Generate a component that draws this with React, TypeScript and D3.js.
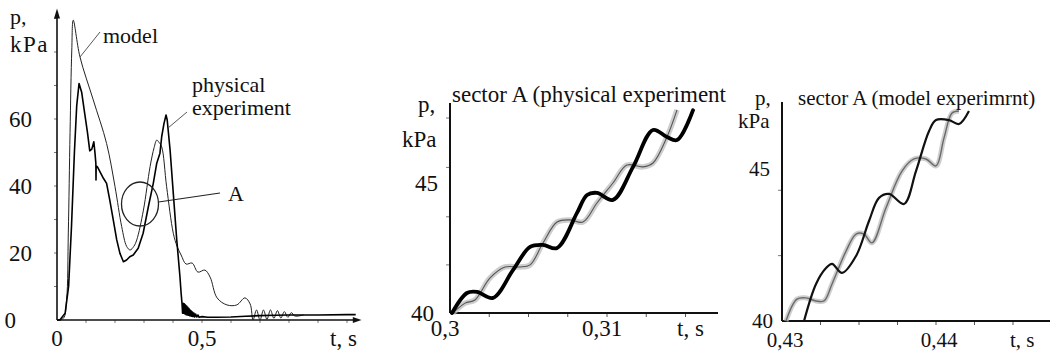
import React from "react";
import * as d3 from "d3";

type Pt = [number, number];

const FONT = "'Liberation Serif', 'Times New Roman', serif";

// full record: [t, s ; p, kPa]
const modelCurve: Pt[] = [
  [0, 0], [0.022, 0.5], [0.033, 6], [0.039, 26], [0.045, 56], [0.051, 80.6], [0.056, 89.5],
  [0.079, 78.6], [0.125, 65.7], [0.171, 52.7], [0.2, 39.8], [0.223, 27.9], [0.24, 22],
  [0.252, 20.9], [0.265, 22], [0.275, 23.9], [0.298, 32.8], [0.321, 45.8], [0.335, 51.5],
  [0.344, 53.7], [0.352, 53], [0.361, 51.7], [0.378, 39.8], [0.401, 25.9], [0.414, 22],
  [0.428, 19.4], [0.445, 16.7], [0.466, 17], [0.486, 14.3], [0.51, 14.9], [0.528, 12.8],
  [0.552, 6.6], [0.586, 4.5], [0.62, 4.5], [0.648, 6.6], [0.666, 4.8], [0.676, 0],
  [0.688, 3], [0.7, 0], [0.712, 3], [0.724, 0.2], [0.736, 3], [0.748, 0.5], [0.76, 2.8],
  [0.772, 0.6], [0.784, 2.5], [0.796, 0.8], [0.808, 2.2], [0.82, 1.2], [0.85, 1.5],
];

const physicalCurve: Pt[] = [
  [0, 0], [0.01, 0], [0.028, 2], [0.04, 10], [0.05, 28], [0.06, 50], [0.068, 64],
  [0.076, 70.6], [0.085, 68], [0.095, 62], [0.105, 56], [0.113, 50.5], [0.12, 51],
  [0.127, 53.2], [0.131, 49.8], [0.134, 46.8], [0.1345, 41.8], [0.135, 46], [0.139, 45.8],
  [0.16, 42.3], [0.171, 40.8], [0.182, 35.8], [0.194, 29.9], [0.206, 23.9], [0.217, 19.9],
  [0.229, 17.4], [0.24, 17.9], [0.251, 18.9], [0.263, 19.4], [0.28, 21.4], [0.297, 25.9],
  [0.315, 33.8], [0.332, 40.8], [0.344, 46.8], [0.355, 49.8], [0.361, 54.7], [0.369, 58.7],
  [0.376, 61.2], [0.38, 59.7], [0.39, 50.7], [0.401, 37.8], [0.413, 23.9], [0.424, 12.9],
  [0.428, 8], [0.431, 5], [0.433, 2], [0.435, 5], [0.437, 2], [0.439, 4.8], [0.441, 1.8],
  [0.443, 4.5], [0.445, 1.6], [0.447, 4.2], [0.449, 1.5], [0.451, 3.8], [0.453, 1.4],
  [0.455, 3.4], [0.457, 1.3], [0.459, 3], [0.461, 1.2], [0.463, 2.7], [0.465, 1.1],
  [0.467, 2.4], [0.469, 1], [0.472, 2.1], [0.475, 0.9], [0.478, 1.8], [0.482, 0.9],
  [0.486, 1.5], [0.49, 0.8], [0.5, 1], [0.52, 0.8], [0.55, 0.8], [0.6, 0.9], [0.65, 1.1],
  [0.7, 1.3], [0.75, 1.4], [0.8, 1.5], [0.9, 1.5], [1.0, 1.6], [1.03, 1.6],
];

// sector A, physical experiment
const physSectorBold: Pt[] = [
  [0.30013, 40], [0.30108, 40.77], [0.30172, 40.81], [0.30274, 40.58], [0.30401, 41.65],
  [0.3051, 42.54], [0.30592, 42.62], [0.30682, 42.5], [0.30809, 43.85], [0.30873, 44.54],
  [0.30936, 44.62], [0.31038, 44.35], [0.31166, 45.62], [0.31293, 47.04], [0.31382, 46.77],
  [0.31446, 46.65], [0.31548, 47.8],
];
const physSectorGray: Pt[] = [
  [0.30019, 40], [0.30096, 40.38], [0.30159, 40.5], [0.30255, 41.35], [0.3035, 41.77],
  [0.30446, 41.77], [0.3051, 41.85], [0.30592, 42.69], [0.30682, 43.5], [0.30764, 43.58],
  [0.30847, 43.5], [0.30936, 44.23], [0.31038, 45], [0.31127, 45.69], [0.31229, 45.62],
  [0.31293, 45.77], [0.31382, 46.77], [0.31446, 47.81],
];

// sector A, model experiment
const modelSectorBlack: Pt[] = [
  [0.43143, 40], [0.43221, 41.22], [0.43286, 41.74], [0.43325, 41.88], [0.4339, 41.58],
  [0.43481, 42.14], [0.43565, 43.29], [0.4363, 44.05], [0.43695, 44.18], [0.43792, 43.85],
  [0.4387, 44.93], [0.43955, 46.25], [0.44, 46.61], [0.44084, 46.61], [0.44149, 46.48],
  [0.44214, 46.91],
];
const modelSectorGray: Pt[] = [
  [0.43026, 40], [0.43097, 40.72], [0.43156, 40.76], [0.43221, 40.66], [0.43273, 40.66],
  [0.43325, 41.22], [0.43416, 42.3], [0.43481, 42.86], [0.43532, 42.86], [0.43584, 42.57],
  [0.43675, 43.72], [0.43779, 44.93], [0.43857, 45.33], [0.43935, 45.33], [0.44, 45.1],
  [0.44052, 46.02], [0.44104, 46.84], [0.44149, 46.91],
];

const fullXTicks = [0.1, 0.2, 0.3, 0.4, 0.5, 0.6, 0.7, 0.8, 0.9, 1.0];
const fullYTicks = [10, 20, 30, 40, 50, 60, 70, 80, 90];
const fullYLabels = [0, 20, 40, 60];
const fullXLabels = [0, 0.5];
const physXTicks = [0.3025, 0.305, 0.3075, 0.31, 0.3125, 0.315];
const physYTicks = [41.85, 43.7, 45.6, 47.5];
const physXLabels = [0.3, 0.31];
const modelXTicks = [0.4325, 0.435, 0.4375, 0.44, 0.4425, 0.445, 0.4475];
const modelYTicks = [42.15, 44.3];
const modelXLabels = [0.43, 0.44];
const sectorYLabels = [40, 45];

const comma = (v: number) => String(v).replace(".", ",");

export default function App() {
  // panel 1
  const x1 = d3.scaleLinear().domain([0, 1]).range([57, 347]);
  const y1 = d3.scaleLinear().domain([0, 80]).range([320, 52]);
  const line1 = d3.line<Pt>().x((d) => x1(d[0])).y((d) => y1(d[1]));
  const smooth1 = d3.line<Pt>().x((d) => x1(d[0])).y((d) => y1(d[1])).curve(d3.curveCatmullRom);

  // panel 2
  const x2 = d3.scaleLinear().domain([0.3, 0.31]).range([450, 607]);
  const y2 = d3.scaleLinear().domain([40, 45]).range([313, 183]);
  const line2 = d3.line<Pt>().x((d) => x2(d[0])).y((d) => y2(d[1])).curve(d3.curveCatmullRom);

  // panel 3
  const x3 = d3.scaleLinear().domain([0.43, 0.44]).range([782, 936]);
  const y3 = d3.scaleLinear().domain([40, 45]).range([321, 169]);
  const line3 = d3.line<Pt>().x((d) => x3(d[0])).y((d) => y3(d[1])).curve(d3.curveCatmullRom);

  const ink = "#111";

  return (
    <svg
      width={1051}
      height={351}
      viewBox="0 0 1051 351"
      style={{ position: "absolute", left: 0, top: 0, background: "#fff" }}
      fontFamily={FONT}
      fill={ink}
    >
      <rect width={1051} height={351} fill="#fff" />

      {/* ---- full record ---- */}
      <g>
        {fullXTicks.map((t) => (
          <line key={t} x1={x1(t)} x2={x1(t)} y1={y1(0)} y2={y1(0) + 3} stroke="#555" strokeWidth={0.8} />
        ))}
        {fullYTicks.map((v) => (
          <line key={v} x1={x1(0) - 3} x2={x1(0)} y1={y1(v)} y2={y1(v)} stroke="#555" strokeWidth={0.8} />
        ))}
        <line x1={x1(0)} x2={x1(1.04)} y1={y1(0)} y2={y1(0)} stroke={ink} strokeWidth={1.6} />
        <line x1={x1(0)} x2={x1(0)} y1={y1(0)} y2={y1(91)} stroke={ink} strokeWidth={1.6} />
        <polygon points={`${x1(0)},${y1(93)} ${x1(0) - 3},${y1(90)} ${x1(0) + 3},${y1(90)}`} />
        <polygon points={`${x1(1.05)},${y1(0)} ${x1(1.02)},${y1(0) - 3} ${x1(1.02)},${y1(0) + 3}`} />

        <path d={smooth1(modelCurve) ?? ""} fill="none" stroke="#222" strokeWidth={1} />
        <path d={line1(physicalCurve) ?? ""} fill="none" stroke="#000" strokeWidth={1.6} strokeLinejoin="round" />

        {fullYLabels.map((v) => (
          <text key={v} x={v === 0 ? 16 : 32} y={y1(v)} dy="0.35em" textAnchor="end" fontSize={23}>
            {v}
          </text>
        ))}
        {fullXLabels.map((t) => (
          <text key={t} x={x1(t)} y={346} textAnchor="middle" fontSize={23}>
            {comma(t)}
          </text>
        ))}
        <text x={330} y={346} fontSize={23}>t, s</text>
        <text x={10} y={24} fontSize={22}>p,</text>
        <text x={10} y={52} fontSize={23} letterSpacing={1.5}>kPa</text>

        <line x1={100} y1={32} x2={80} y2={57} stroke="#444" strokeWidth={0.9} />
        <text x={103} y={43} fontSize={22}>model</text>
        <line x1={187} y1={112} x2={168} y2={128} stroke="#444" strokeWidth={0.9} />
        <text x={192} y={92} fontSize={22}>physical</text>
        <text x={192} y={115} fontSize={22}>experiment</text>

        <ellipse cx={140} cy={204} rx={18.5} ry={22} fill="none" stroke="#222" strokeWidth={1.3} />
        <line x1={158.5} y1={202} x2={220} y2={193} stroke="#222" strokeWidth={1.2} />
        <text x={228} y={201} fontSize={22}>A</text>
      </g>

      {/* ---- sector A, physical experiment ---- */}
      <g>
        {physXTicks.map((t) => (
          <line key={t} x1={x2(t)} x2={x2(t)} y1={y2(40)} y2={y2(40) + 4} stroke="#555" strokeWidth={1} />
        ))}
        {physYTicks.map((v) => (
          <line key={v} x1={x2(0.3) - 4} x2={x2(0.3)} y1={y2(v)} y2={y2(v)} stroke="#777" strokeWidth={1} />
        ))}
        <line x1={x2(0.3)} x2={718} y1={y2(40)} y2={y2(40)} stroke={ink} strokeWidth={2} />
        <line x1={x2(0.3)} x2={x2(0.3)} y1={y2(40)} y2={103} stroke={ink} strokeWidth={2} />

        <path d={line2(physSectorGray) ?? ""} fill="none" stroke="#bdbdbd" strokeWidth={5.5} strokeOpacity={0.75} />
        <path d={line2(physSectorGray) ?? ""} fill="none" stroke="#555" strokeWidth={1.1} />
        <path d={line2(physSectorBold) ?? ""} fill="none" stroke="#000" strokeWidth={3.8} strokeLinecap="round" />

        <text x={452} y={102} fontSize={23}>sector A (physical experiment</text>
        <text x={418} y={112} fontSize={23}>p,</text>
        <text x={402} y={147} fontSize={23}>kPa</text>
        {sectorYLabels.map((v) => (
          <text key={v} x={v === 40 ? 434 : 438} y={y2(v)} dy="0.35em" textAnchor="end" fontSize={23}>
            {v}
          </text>
        ))}
        {physXLabels.map((t) => (
          <text key={t} x={x2(t) - 5} y={336} textAnchor="middle" fontSize={23}>
            {comma(t)}
          </text>
        ))}
        <text x={677} y={336} fontSize={23}>t, s</text>
      </g>

      {/* ---- sector A, model experiment ---- */}
      <g>
        {modelXTicks.map((t) => (
          <line key={t} x1={x3(t)} x2={x3(t)} y1={y3(40)} y2={y3(40) + 4} stroke="#555" strokeWidth={1} />
        ))}
        {modelYTicks.map((v) => (
          <line key={v} x1={x3(0.43) - 4} x2={x3(0.43)} y1={y3(v)} y2={y3(v)} stroke="#777" strokeWidth={1} />
        ))}
        <line x1={x3(0.43)} x2={1050} y1={y3(40)} y2={y3(40)} stroke={ink} strokeWidth={2} />
        <line x1={x3(0.43)} x2={x3(0.43)} y1={y3(40)} y2={102} stroke={ink} strokeWidth={2} />

        <path d={line3(modelSectorGray) ?? ""} fill="none" stroke="#c2c2c2" strokeWidth={5} strokeOpacity={0.8} />
        <path d={line3(modelSectorGray) ?? ""} fill="none" stroke="#6a6a6a" strokeWidth={1.4} />
        <path d={line3(modelSectorBlack) ?? ""} fill="none" stroke="#111" strokeWidth={2.2} />

        <text x={798} y={105} fontSize={21}>sector A (model experimrnt)</text>
        <text x={755} y={105} fontSize={21}>p,</text>
        <text x={738} y={128} fontSize={21}>kPa</text>
        {sectorYLabels.map((v) => (
          <text key={v} x={v === 40 ? 773 : 770} y={y3(v)} dy="0.35em" textAnchor="end" fontSize={21}>
            {v}
          </text>
        ))}
        {modelXLabels.map((t) => (
          <text key={t} x={x3(t) + 3} y={347} textAnchor="middle" fontSize={21}>
            {comma(t)}
          </text>
        ))}
        <text x={1010} y={347} fontSize={21}>t, s</text>
      </g>
    </svg>
  );
}
